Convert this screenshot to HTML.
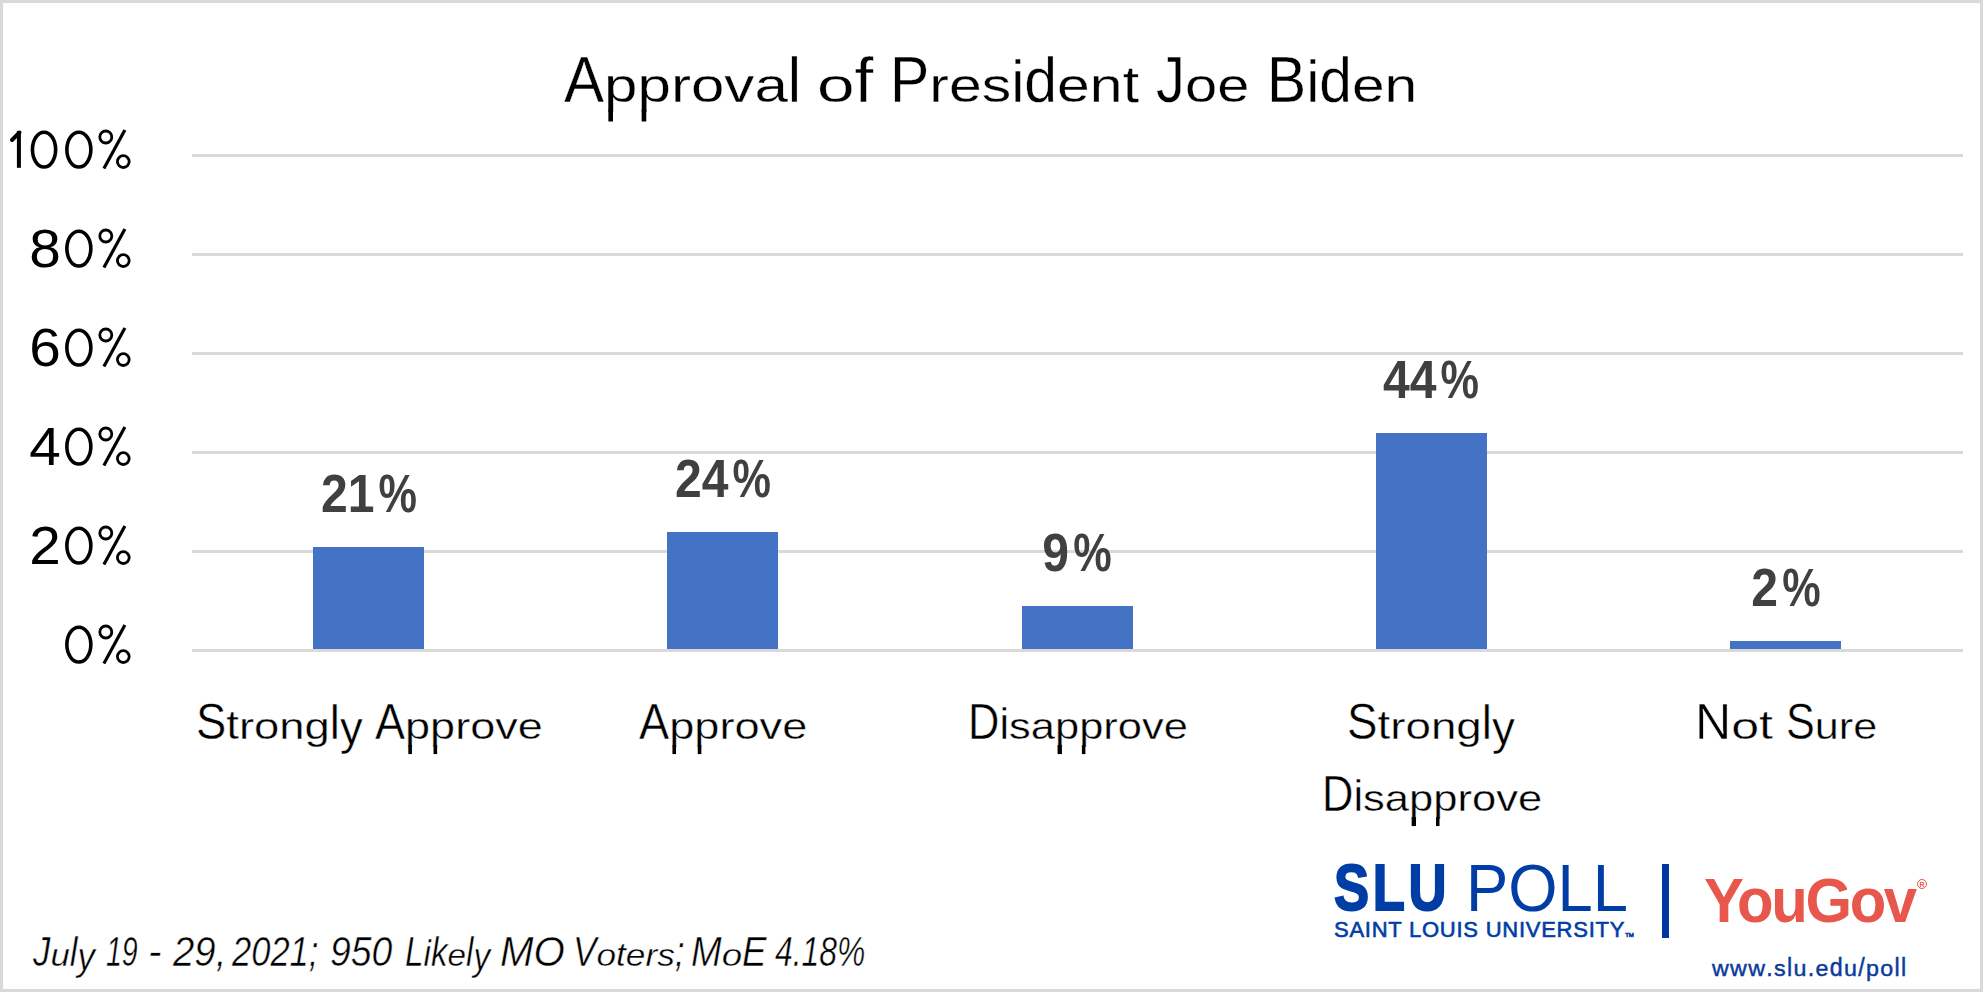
<!DOCTYPE html>
<html><head><meta charset="utf-8">
<style>
html,body{margin:0;padding:0;}
body{width:1983px;height:992px;position:relative;overflow:hidden;background:#fff;font-family:"Liberation Sans",sans-serif;}
#frame{position:absolute;left:0;top:0;width:1977px;height:986px;border:3px solid #d9d9d9;}
.t{position:absolute;white-space:nowrap;line-height:1;}
.f i{display:inline-block;font-style:inherit;transform-origin:50% 0.8465em;}
.f i.dp,.f i.dq{position:relative;}
.f i.dp::after,.f i.dq::after{content:"";position:absolute;top:0.9965em;height:0.246em;width:0.084em;background:currentColor;}
.f i.dp::after{left:0.068em;}
.f i.dq::after{left:0.403em;}
.grid{position:absolute;left:192px;width:1771px;height:3px;background:#d9d9d9;}
.bar{position:absolute;width:111px;background:#4472c4;}
.yl{position:absolute;right:1919px;white-space:nowrap;line-height:1;font-size:54px;color:#000;letter-spacing:3px;transform:scaleX(1.05);transform-origin:right center;}
.yp{position:absolute;left:96px;white-space:nowrap;line-height:1;font-size:54px;color:#000;transform:scaleX(0.75);transform-origin:left center;}
.dl{position:absolute;width:300px;text-align:center;white-space:nowrap;line-height:1;font-size:54px;font-weight:bold;color:#404040;transform:scaleX(0.89);}
.dl .pc{display:inline-block;transform:scaleX(0.9);transform-origin:100% 50%;}
.cl{position:absolute;width:400px;text-align:center;white-space:nowrap;line-height:1;font-size:50px;color:#000;-webkit-text-stroke:0.5px #fff;}
</style></head><body>
<div id="frame"></div>
<div class="t f" style="left:564.08px;top:47px;font-size:65px;-webkit-text-stroke:0.4px #fff;transform:scaleX(0.9243);transform-origin:0 50%;">A<i class="dp" style="transform:scaleY(0.75)">p</i><i class="dp" style="transform:scaleY(0.75)">p</i><i style="transform:scaleY(0.75)">r</i><i style="transform:scaleY(0.75)">o</i><i style="transform:scaleY(0.75)">v</i><i style="transform:scaleY(0.75)">a</i><i style="transform:scaleY(0.96)">l</i></div>
<div class="t f" style="left:816.88px;top:47px;font-size:65px;-webkit-text-stroke:0.4px #fff;transform:scaleX(1.0392);transform-origin:0 50%;"><i style="transform:scaleY(0.75)">o</i><i style="transform:scaleY(0.96)">f</i></div>
<div class="t f" style="left:889.56px;top:47px;font-size:65px;-webkit-text-stroke:0.4px #fff;transform:scaleX(0.9067);transform-origin:0 50%;">P<i style="transform:scaleY(0.75)">r</i><i style="transform:scaleY(0.75)">e</i><i style="transform:scaleY(0.75)">s</i><i style="transform:scaleY(0.9)">i</i><i style="transform:scaleY(0.96)">d</i><i style="transform:scaleY(0.75)">e</i><i style="transform:scaleY(0.75)">n</i><i style="transform:scaleY(0.8)">t</i></div>
<div class="t f" style="left:1156.11px;top:47px;font-size:65px;-webkit-text-stroke:0.4px #fff;transform:scaleX(0.8911);transform-origin:0 50%;">J<i style="transform:scaleY(0.75)">o</i><i style="transform:scaleY(0.75)">e</i></div>
<div class="t f" style="left:1266.58px;top:47px;font-size:65px;-webkit-text-stroke:0.4px #fff;transform:scaleX(0.9038);transform-origin:0 50%;">B<i style="transform:scaleY(0.9)">i</i><i style="transform:scaleY(0.96)">d</i><i style="transform:scaleY(0.75)">e</i><i style="transform:scaleY(0.75)">n</i></div>
<div class="grid" style="top:154px"></div>
<div class="grid" style="top:253px"></div>
<div class="grid" style="top:352px"></div>
<div class="grid" style="top:451px"></div>
<div class="grid" style="top:550px"></div>
<div class="grid" style="top:649px"></div>
<div class="yl" style="top:221px">8</div>
<div class="yl" style="top:320px">6</div>
<div class="yl" style="top:419px">4</div>
<div class="yl" style="top:518px">2</div>
<svg style="position:absolute;left:0;top:0" width="140" height="700" viewBox="0 0 140 700"><circle cx="105.8" cy="137.0" r="6" fill="none" stroke="#000" stroke-width="2.8"/><circle cx="123.3" cy="161.6" r="5.9" fill="none" stroke="#000" stroke-width="2.8"/><line x1="124.9" y1="130.1" x2="103.9" y2="168.5" stroke="#000" stroke-width="3.2"/><ellipse cx="78.85" cy="149.6" rx="12" ry="17.4" fill="none" stroke="#000" stroke-width="3.6"/><circle cx="105.8" cy="236.0" r="6" fill="none" stroke="#000" stroke-width="2.8"/><circle cx="123.3" cy="260.6" r="5.9" fill="none" stroke="#000" stroke-width="2.8"/><line x1="124.9" y1="229.1" x2="103.9" y2="267.5" stroke="#000" stroke-width="3.2"/><ellipse cx="78.85" cy="248.6" rx="12" ry="17.4" fill="none" stroke="#000" stroke-width="3.6"/><circle cx="105.8" cy="335.0" r="6" fill="none" stroke="#000" stroke-width="2.8"/><circle cx="123.3" cy="359.6" r="5.9" fill="none" stroke="#000" stroke-width="2.8"/><line x1="124.9" y1="328.1" x2="103.9" y2="366.5" stroke="#000" stroke-width="3.2"/><ellipse cx="78.85" cy="347.6" rx="12" ry="17.4" fill="none" stroke="#000" stroke-width="3.6"/><circle cx="105.8" cy="434.0" r="6" fill="none" stroke="#000" stroke-width="2.8"/><circle cx="123.3" cy="458.6" r="5.9" fill="none" stroke="#000" stroke-width="2.8"/><line x1="124.9" y1="427.1" x2="103.9" y2="465.5" stroke="#000" stroke-width="3.2"/><ellipse cx="78.85" cy="446.6" rx="12" ry="17.4" fill="none" stroke="#000" stroke-width="3.6"/><circle cx="105.8" cy="533.0" r="6" fill="none" stroke="#000" stroke-width="2.8"/><circle cx="123.3" cy="557.6" r="5.9" fill="none" stroke="#000" stroke-width="2.8"/><line x1="124.9" y1="526.1" x2="103.9" y2="564.5" stroke="#000" stroke-width="3.2"/><ellipse cx="78.85" cy="545.6" rx="12" ry="17.4" fill="none" stroke="#000" stroke-width="3.6"/><circle cx="105.8" cy="632.0" r="6" fill="none" stroke="#000" stroke-width="2.8"/><circle cx="123.3" cy="656.6" r="5.9" fill="none" stroke="#000" stroke-width="2.8"/><line x1="124.9" y1="625.1" x2="103.9" y2="663.5" stroke="#000" stroke-width="3.2"/><ellipse cx="78.85" cy="644.6" rx="12" ry="17.4" fill="none" stroke="#000" stroke-width="3.6"/><ellipse cx="44.05" cy="149.6" rx="11.6" ry="17.4" fill="none" stroke="#000" stroke-width="3.6"/><rect x="16.9" y="130.9" width="4" height="36.9" fill="#000"/><line x1="12" y1="140" x2="19.5" y2="132.5" stroke="#000" stroke-width="4" stroke-linecap="round"/></svg>
<div class="bar" style="left:313px;top:547px;height:102px"></div>
<div class="bar" style="left:667px;top:532px;height:117px"></div>
<div class="bar" style="left:1022px;top:606px;height:43px"></div>
<div class="bar" style="left:1376px;top:433px;height:216px"></div>
<div class="bar" style="left:1730px;top:641px;height:8px"></div>
<div class="dl" style="left:219px;top:466px">21<span class="pc">%</span></div>
<div class="dl" style="left:573px;top:451px">24<span class="pc">%</span></div>
<div class="dl" style="left:927px;top:525px">9<span class="pc">%</span></div>
<div class="dl" style="left:1281px;top:352px">44<span class="pc">%</span></div>
<div class="dl" style="left:1636px;top:560px">2<span class="pc">%</span></div>
<div class="t f" style="left:195.88px;top:697px;-webkit-text-stroke:0.5px #fff;font-size:50px;color:#000;transform:scaleX(0.9083);transform-origin:0 50%;">S<i style="transform:scaleY(0.8)">t</i><i style="transform:scaleY(0.75)">r</i><i style="transform:scaleY(0.75)">o</i><i style="transform:scaleY(0.75)">n</i><i style="transform:scaleY(0.75)">g</i><i style="transform:scaleY(0.96)">l</i><i style="transform:translateY(0.094em) scaleY(0.93)">y</i></div>
<div class="t f" style="left:374.60px;top:697px;-webkit-text-stroke:0.5px #fff;font-size:50px;color:#000;transform:scaleX(0.9005);transform-origin:0 50%;">A<i class="dp" style="transform:scaleY(0.75)">p</i><i class="dp" style="transform:scaleY(0.75)">p</i><i style="transform:scaleY(0.75)">r</i><i style="transform:scaleY(0.75)">o</i><i style="transform:scaleY(0.75)">v</i><i style="transform:scaleY(0.75)">e</i></div>
<div class="t f" style="left:638.70px;top:697px;-webkit-text-stroke:0.5px #fff;font-size:50px;color:#000;transform:scaleX(0.9038);transform-origin:0 50%;">A<i class="dp" style="transform:scaleY(0.75)">p</i><i class="dp" style="transform:scaleY(0.75)">p</i><i style="transform:scaleY(0.75)">r</i><i style="transform:scaleY(0.75)">o</i><i style="transform:scaleY(0.75)">v</i><i style="transform:scaleY(0.75)">e</i></div>
<div class="t f" style="left:968.02px;top:697px;-webkit-text-stroke:0.5px #fff;font-size:50px;color:#000;transform:scaleX(0.8696);transform-origin:0 50%;">D<i style="transform:scaleY(0.9)">i</i><i style="transform:scaleY(0.75)">s</i><i style="transform:scaleY(0.75)">a</i><i class="dp" style="transform:scaleY(0.75)">p</i><i class="dp" style="transform:scaleY(0.75)">p</i><i style="transform:scaleY(0.75)">r</i><i style="transform:scaleY(0.75)">o</i><i style="transform:scaleY(0.75)">v</i><i style="transform:scaleY(0.75)">e</i></div>
<div class="t f" style="left:1346.96px;top:697px;-webkit-text-stroke:0.5px #fff;font-size:50px;color:#000;transform:scaleX(0.9144);transform-origin:0 50%;">S<i style="transform:scaleY(0.8)">t</i><i style="transform:scaleY(0.75)">r</i><i style="transform:scaleY(0.75)">o</i><i style="transform:scaleY(0.75)">n</i><i style="transform:scaleY(0.75)">g</i><i style="transform:scaleY(0.96)">l</i><i style="transform:translateY(0.094em) scaleY(0.93)">y</i></div>
<div class="t f" style="left:1695.09px;top:697px;-webkit-text-stroke:0.5px #fff;font-size:50px;color:#000;transform:scaleX(1.0014);transform-origin:0 50%;">N<i style="transform:scaleY(0.75)">o</i><i style="transform:scaleY(0.8)">t</i></div>
<div class="t f" style="left:1786.21px;top:697px;-webkit-text-stroke:0.5px #fff;font-size:50px;color:#000;transform:scaleX(0.8630);transform-origin:0 50%;">S<i style="transform:scaleY(0.75)">u</i><i style="transform:scaleY(0.75)">r</i><i style="transform:scaleY(0.75)">e</i></div>
<div class="t f" style="left:1321.72px;top:769px;-webkit-text-stroke:0.5px #fff;font-size:50px;color:#000;transform:scaleX(0.8704);transform-origin:0 50%;">D<i style="transform:scaleY(0.9)">i</i><i style="transform:scaleY(0.75)">s</i><i style="transform:scaleY(0.75)">a</i><i class="dp" style="transform:scaleY(0.75)">p</i><i class="dp" style="transform:scaleY(0.75)">p</i><i style="transform:scaleY(0.75)">r</i><i style="transform:scaleY(0.75)">o</i><i style="transform:scaleY(0.75)">v</i><i style="transform:scaleY(0.75)">e</i></div>
<div class="t f" style="left:33.10px;top:931px;font-size:42px;font-style:italic;-webkit-text-stroke:0.5px #fff;transform:scaleX(0.8276);transform-origin:0 50%;">J<i style="transform:scaleY(0.75)">u</i><i style="transform:scaleY(0.96)">l</i><i style="transform:translateY(0.094em) scaleY(0.93)">y</i></div>
<div class="t f" style="left:105.94px;top:931px;font-size:42px;font-style:italic;-webkit-text-stroke:0.5px #fff;transform:scaleX(0.6795);transform-origin:0 50%;">19</div>
<div class="t f" style="left:147.99px;top:931px;font-size:42px;font-style:italic;-webkit-text-stroke:0.5px #fff;transform:scaleX(0.9700);transform-origin:0 50%;">-</div>
<div class="t f" style="left:172.70px;top:931px;font-size:42px;font-style:italic;-webkit-text-stroke:0.5px #fff;transform:scaleX(0.9132);transform-origin:0 50%;">29,</div>
<div class="t f" style="left:232.40px;top:931px;font-size:42px;font-style:italic;-webkit-text-stroke:0.5px #fff;transform:scaleX(0.8223);transform-origin:0 50%;">2021;</div>
<div class="t f" style="left:329.52px;top:931px;font-size:42px;font-style:italic;-webkit-text-stroke:0.5px #fff;transform:scaleX(0.8897);transform-origin:0 50%;">950</div>
<div class="t f" style="left:404.72px;top:931px;font-size:42px;font-style:italic;-webkit-text-stroke:0.5px #fff;transform:scaleX(0.7916);transform-origin:0 50%;">L<i style="transform:scaleY(0.9)">i</i><i style="transform:scaleY(0.96)">k</i><i style="transform:scaleY(0.75)">e</i><i style="transform:scaleY(0.96)">l</i><i style="transform:translateY(0.094em) scaleY(0.93)">y</i></div>
<div class="t f" style="left:499.58px;top:931px;font-size:42px;font-style:italic;-webkit-text-stroke:0.5px #fff;transform:scaleX(0.9594);transform-origin:0 50%;">MO</div>
<div class="t f" style="left:572.75px;top:931px;font-size:42px;font-style:italic;-webkit-text-stroke:0.5px #fff;transform:scaleX(0.8386);transform-origin:0 50%;">V<i style="transform:scaleY(0.75)">o</i><i style="transform:scaleY(0.8)">t</i><i style="transform:scaleY(0.75)">e</i><i style="transform:scaleY(0.75)">r</i><i style="transform:scaleY(0.75)">s</i>;</div>
<div class="t f" style="left:691.35px;top:931px;font-size:42px;font-style:italic;-webkit-text-stroke:0.5px #fff;transform:scaleX(0.8750);transform-origin:0 50%;">M<i style="transform:scaleY(0.75)">o</i>E</div>
<div class="t f" style="left:775.44px;top:931px;font-size:42px;font-style:italic;-webkit-text-stroke:0.5px #fff;transform:scaleX(0.7586);transform-origin:0 50%;">4.18%</div>
<div class="t" id="slu" style="left:1334px;top:855px;font-size:65px;font-weight:bold;color:#003da5;-webkit-text-stroke:2px #003da5;letter-spacing:4.5px;transform:scaleX(0.81);transform-origin:left center;">SLU</div>
<div class="t" id="poll" style="left:1466px;top:855px;font-size:66px;color:#003da5;transform:scaleX(0.96);transform-origin:left center;">POLL</div>
<div class="t" id="sluu" style="left:1334px;top:919px;font-size:22px;color:#003da5;-webkit-text-stroke:0.6px #003da5;letter-spacing:0.75px;">SAINT LOUIS UNIVERSITY<span style="font-size:6px;letter-spacing:0">TM</span></div>
<div style="position:absolute;left:1662px;top:864px;width:6.5px;height:74px;background:#0035a2;"></div>
<div class="t" id="yougov" style="left:1704px;top:869px;font-size:63px;font-weight:bold;color:#e8574c;transform:scaleX(0.95);transform-origin:left center;letter-spacing:-2.5px;">YouGov</div>
<div class="t" style="left:1917px;top:879px;width:8px;height:8px;border:1px solid #e8574c;border-radius:50%;"></div>
<div class="t" style="left:1919px;top:880.5px;width:6px;text-align:center;font-size:7px;font-weight:bold;color:#e8574c;">R</div>
<div class="t f" id="url" style="left:1712px;top:955px;font-size:25px;color:#0c3a9c;-webkit-text-stroke:0.5px #0c3a9c;letter-spacing:1.4px;transform:scaleX(0.93);transform-origin:left center;"><i style="transform:scaleY(0.9)">w</i><i style="transform:scaleY(0.9)">w</i><i style="transform:scaleY(0.9)">w</i>.<i style="transform:scaleY(0.9)">s</i><i style="transform:scaleY(1.0)">l</i><i style="transform:scaleY(0.9)">u</i>.<i style="transform:scaleY(0.9)">e</i><i style="transform:scaleY(1.0)">d</i><i style="transform:scaleY(0.9)">u</i>/<i style="transform:scaleY(0.9)">p</i><i style="transform:scaleY(0.9)">o</i><i style="transform:scaleY(1.0)">l</i><i style="transform:scaleY(1.0)">l</i></div>
</body></html>
